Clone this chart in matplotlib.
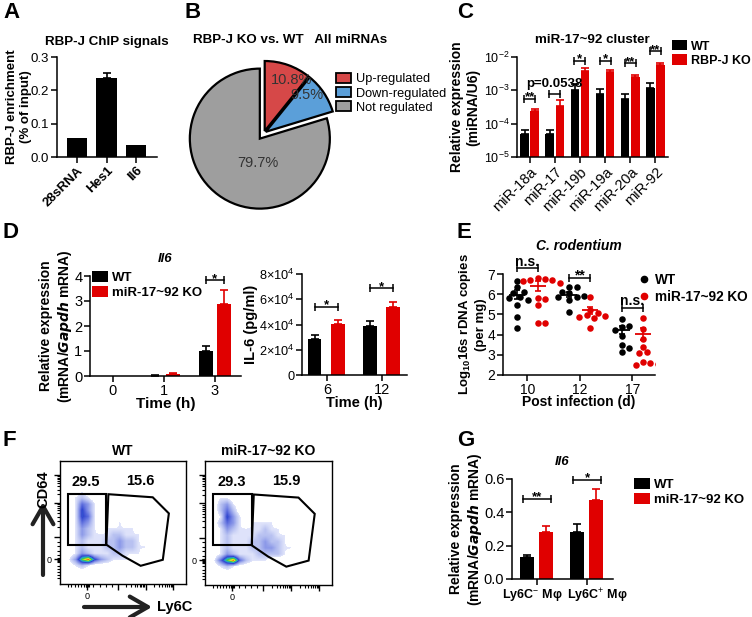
import numpy as np
import matplotlib
matplotlib.use('Agg')
import matplotlib.pyplot as plt
from matplotlib.patches import Patch, Polygon, Rectangle, FancyArrowPatch
from matplotlib.lines import Line2D
from matplotlib.colors import LinearSegmentedColormap
from matplotlib.ticker import NullLocator
from matplotlib.transforms import ScaledTranslation

plt.rcParams['font.family'] = ['Liberation Sans', 'DejaVu Sans']
plt.rcParams['mathtext.fontset'] = 'custom'
plt.rcParams['mathtext.rm'] = 'Liberation Sans'
plt.rcParams['mathtext.it'] = 'Liberation Sans:italic'
plt.rcParams['mathtext.bf'] = 'Liberation Sans:bold'
plt.rcParams['axes.linewidth'] = 1.1

RED = '#e00000'

# ---- A: ChIP
chip_genes = ['28sRNA', 'Hes1', 'Il6']
chip_vals = [0.058, 0.238, 0.035]
chip_err = [0.0, 0.015, 0.0]

# ---- B: pie
pie_labels = ['Up-regulated', 'Down-regulated', 'Not regulated']
pie_vals = [10.8, 9.5, 79.7]
pie_colors = ['#d64848', '#5b9fd9', '#9e9e9e']

# ---- C: miR-17~92 cluster
mirs = ['miR-18a', 'miR-17', 'miR-19b', 'miR-19a', 'miR-20a', 'miR-92']
c_wt = [5.0e-5, 5.0e-5, 1.05e-3, 7.7e-4, 5.5e-4, 1.2e-3]
c_wt_err = [1.3e-5, 1.3e-5, 4.5e-4, 3.0e-4, 2.1e-4, 5.0e-4]
c_ko = [2.4e-4, 3.4e-4, 3.9e-3, 3.5e-3, 2.5e-3, 5.6e-3]
c_ko_err = [4e-5, 1.7e-4, 8e-4, 6e-4, 3e-4, 1.0e-3]
c_sig_y = [5.5e-4, 7.6e-4, 7.8e-3, 7.8e-3, 6.6e-3, 1.48e-2]
c_sig = ['**', 'p=0.0538', '*', '*', '**', '**']

# ---- D: Il6 mRNA and IL-6 protein
d_times = ['0', '1', '3']
d_wt = [0.0, 0.02, 1.02]
d_wt_err = [0.0, 0.01, 0.2]
d_ko = [0.0, 0.10, 2.88]
d_ko_err = [0.0, 0.03, 0.57]

d2_times = ['6', '12']
d2_wt = [2.85e4, 3.9e4]
d2_wt_err = [0.35e4, 0.35e4]
d2_ko = [4.05e4, 5.35e4]
d2_ko_err = [0.3e4, 0.42e4]
d2_sig_y = [5.4e4, 6.86e4]

# ---- E: C. rodentium load
e_days = ['10', '12', '17']
e_wt = [[6.67, 6.34, 6.13, 6.05, 5.88, 5.80, 5.72, 5.46, 4.88, 4.35],
        [6.34, 6.37, 6.12, 6.04, 5.88, 5.84, 5.90, 5.72, 5.13],
        [4.76, 4.38, 4.42, 4.22, 3.92, 3.47, 3.36, 3.14]]
e_ko = [[6.78, 6.75, 6.72, 6.70, 6.65, 6.57, 5.80, 5.76, 5.46, 4.55, 4.58],
        [5.84, 5.21, 5.05, 4.96, 4.88, 4.91, 4.80, 4.35],
        [4.80, 4.30, 3.80, 3.40, 3.14, 3.10, 2.65, 2.57, 2.50, 2.53]]
e_mean_wt = [5.98, 5.97, 4.22]
e_sem_wt = [0.22, 0.12, 0.20]
e_mean_ko = [6.42, 5.20, 4.03]
e_sem_ko = [0.25, 0.18, 0.28]
e_sig_y = [7.28, 6.82, 5.34]
e_sig = ['n.s.', '**', 'n.s.']

# ---- F: flow density (rows top->bottom, digits = event density)
f_wt_grid = [
    "00000000000000000000",
    "00000000000000000000",
    "00000000000000000000",
    "00000000000000000000",
    "00000000000000000000",
    "00010000000000000000",
    "00121000000000000000",
    "00143100000000000000",
    "00153100000000000000",
    "00154100000000000000",
    "00143100010000000000",
    "00132101111100000000",
    "00132111221110000000",
    "00121112232210000000",
    "00121112232211000000",
    "00132111221110000000",
    "01379532111000000000",
    "00121000000000000000",
    "00000000000000000000",
    "00000000000000000000",
]
f_ko_grid = [
    "00000000000000000000",
    "00000000000000000000",
    "00000000000000000000",
    "00000000000000000000",
    "00000000000000000000",
    "00000000000000000000",
    "00110000000000000000",
    "00231000000000000000",
    "00242000000000000000",
    "00153100000000000000",
    "00243101111000000000",
    "00132111121100000000",
    "00121111222110000000",
    "00121112232210000000",
    "00121112233211000000",
    "00132111222210000000",
    "01479421110000000000",
    "00121000000000000000",
    "00000000000000000000",
    "00000000000000000000",
]
f_titles = ['WT', 'miR-17~92 KO']
f_pct_neg = ['29.5', '29.3']
f_pct_pos = ['15.6', '15.9']

# ---- G: Il6 in sorted macrophages
g_cats = ['Ly6C$^{-}$ Mφ', 'Ly6C$^{+}$ Mφ']
g_wt = [0.13, 0.28]
g_wt_err = [0.012, 0.05]
g_ko = [0.28, 0.475]
g_ko_err = [0.04, 0.065]
g_sig_y = [0.48, 0.594]
g_sig = ['**', '*']

W, H = 752, 617
fig = plt.figure(figsize=(W / 100, H / 100), dpi=100)


def px_axes(l, t, r, b):
    return fig.add_axes([l / W, 1 - b / H, (r - l) / W, (b - t) / H])


def style(ax, fs=9):
    ax.spines['top'].set_visible(False)
    ax.spines['right'].set_visible(False)
    ax.tick_params(direction='out', length=4, width=1.1, labelsize=fs, pad=1.5)


def err_up(ax, x, v, e, color):
    ax.errorbar(x, v, yerr=[np.zeros(len(e)), e], fmt='none', ecolor=color,
                elinewidth=1.2, capsize=3, capthick=1.2, clip_on=False)


def bracket(ax, x1, x2, y, txt, fs=9.5, off=None):
    ax.plot([x1, x2], [y, y], color='k', lw=1.1, marker='|', ms=6, mew=1.1, clip_on=False)
    if off is None:
        off = -1.2 if txt.startswith('*') else 1.8
    ax.annotate(txt, (0.5 * (x1 + x2), y), xytext=(0, off), textcoords='offset points',
                ha='center', va='baseline', fontsize=fs, fontweight='bold', annotation_clip=False)


def letter(x, y, s):
    fig.text(x / W, 1 - y / H, s, fontsize=16, fontweight='bold', va='top', ha='left')


def bar_legend(ax, x, y, labels, fs=10):
    hs = [Patch(facecolor='k'), Patch(facecolor=RED)]
    ax.legend(hs, labels, loc='upper left', bbox_to_anchor=(x / W, 1 - y / H),
              bbox_transform=fig.transFigure, frameon=False, handlelength=1.2,
              handleheight=0.9, handletextpad=0.3, borderaxespad=0, borderpad=0,
              labelspacing=0.15, prop={'weight': 'bold', 'size': fs})


# ================= A
ax = px_axes(57, 57, 157, 157)
style(ax, 9.5)
xa = np.arange(len(chip_genes))
ax.bar(xa, chip_vals, width=0.68, color='k')
err_up(ax, xa[1:2], chip_vals[1:2], chip_err[1:2], 'k')
ax.set_xlim(-0.67, 2.7)
ax.set_ylim(0, 0.3)
ax.set_yticks([0, 0.1, 0.2, 0.3])
ax.set_yticklabels(['0.0', '0.1', '0.2', '0.3'])
ax.set_xticks(xa)
ax.set_xticklabels(chip_genes, rotation=45, ha='right', rotation_mode='anchor',
                   fontweight='bold', fontsize=9.5)
ax.set_title('RBP-J ChIP signals', fontsize=9.6, fontweight='bold', pad=8.5)
ax.set_ylabel('RBP-J enrichment\n(% of input)', fontsize=9.5, fontweight='bold')
ax.yaxis.set_label_coords(-0.255, 0.5)

# ================= B
axb = px_axes(187, 56, 341, 210)
wedges, _ = axb.pie(pie_vals, colors=pie_colors, startangle=90, counterclock=False,
                    explode=[0.03, 0.03, 0.1], wedgeprops=dict(edgecolor='k', linewidth=1.6))
axb.set_xlim(-1.1, 1.1)
axb.set_ylim(-1.1, 1.1)
axb.set_aspect('equal')
for (px, py), v in zip([(0.4, 0.76), (0.62, 0.55), (-0.09, -0.43)], pie_vals):
    axb.text(px, py, '%.1f%%' % v, ha='center', va='center', fontsize=10.5, color='#333333')
fig.text(290 / W, 1 - 40 / H, 'RBP-J KO vs. WT   All miRNAs', ha='center', va='center',
         fontsize=9.6, fontweight='bold')
axb.legend([Patch(facecolor=c, edgecolor='k', linewidth=1.3) for c in pie_colors], pie_labels,
           loc='upper left', bbox_to_anchor=(336 / W, 1 - 73 / H), bbox_transform=fig.transFigure,
           frameon=False, handlelength=1.2, handleheight=0.8, handletextpad=0.4,
           borderaxespad=0, borderpad=0, labelspacing=0.15, fontsize=9.2)

# ================= C
ax = px_axes(517, 57, 668, 157)
style(ax, 9)
xc = np.arange(len(mirs))
ax.set_yscale('log')
ax.bar(xc - 0.2, np.array(c_wt) - 1e-5, 0.34, bottom=1e-5, color='k')
ax.bar(xc + 0.2, np.array(c_ko) - 1e-5, 0.34, bottom=1e-5, color=RED)
err_up(ax, xc - 0.2, c_wt, c_wt_err, 'k')
err_up(ax, xc + 0.2, c_ko, c_ko_err, RED)
ax.set_ylim(1e-5, 1e-2)
ax.set_xlim(-0.5, 5.5)
ax.set_yticks([1e-5, 1e-4, 1e-3, 1e-2])
ax.yaxis.set_minor_locator(NullLocator())
ax.set_xticks(xc)
ax.set_xticklabels(mirs, rotation=45, ha='right', rotation_mode='anchor', fontsize=10.5)
for i in range(len(mirs)):
    bracket(ax, i - 0.22, i + 0.22, c_sig_y[i], c_sig[i], 9.5,
            off=5 if c_sig[i].startswith('p') else None)
ax.set_title('miR-17~92 cluster', fontsize=9.6, fontweight='bold', pad=10)
ax.set_ylabel('Relative expression\n(miRNA/U6)', fontsize=10, fontweight='bold')
ax.yaxis.set_label_coords(-0.245, 0.5)
bar_legend(ax, 672, 40, ['WT', 'RBP-J KO'], 9)

# ================= D (left)
ax = px_axes(90, 276, 241, 376)
style(ax, 10.5)
xd = np.arange(len(d_times))
ax.bar(xd - 0.18, d_wt, 0.28, color='k')
ax.bar(xd + 0.18, d_ko, 0.28, color=RED)
err_up(ax, xd[1:] - 0.18, d_wt[1:], d_wt_err[1:], 'k')
err_up(ax, xd[1:] + 0.18, d_ko[1:], d_ko_err[1:], RED)
ax.set_xlim(-0.45, 2.51)
ax.set_ylim(0, 4)
ax.set_yticks([0, 1, 2, 3, 4])
ax.set_xticks(xd)
ax.set_xticklabels(d_times)
bracket(ax, 2 - 0.18, 2 + 0.18, 3.83, '*')
ax.set_title('Il6', fontsize=9.5, fontweight='bold', style='italic', pad=10)
ax.set_ylabel('Relative expression\n(mRNA/$\\mathbfit{Gapdh}$ mRNA)', fontsize=10, fontweight='bold')
ax.yaxis.set_label_coords(-0.106, 0.5)
ax.set_xlabel('Time (h)', fontsize=11, fontweight='bold')
ax.xaxis.set_label_coords(0.5, -0.21)
bar_legend(ax, 92, 271, ['WT', 'miR-17~92 KO'], 9.5)

# ================= D (right)
ax = px_axes(302, 274, 407, 375)
style(ax, 9.2)
x2 = np.arange(len(d2_times))
ax.bar(x2 - 0.22, d2_wt, 0.24, color='k')
ax.bar(x2 + 0.2, d2_ko, 0.26, color=RED)
err_up(ax, x2 - 0.22, d2_wt, d2_wt_err, 'k')
err_up(ax, x2 + 0.2, d2_ko, d2_ko_err, RED)
ax.set_xlim(-0.45, 1.45)
ax.set_ylim(0, 8e4)
ax.set_yticks([0, 2e4, 4e4, 6e4, 8e4])
ax.set_yticklabels(['0', '2×10$^{4}$', '4×10$^{4}$', '6×10$^{4}$', '8×10$^{4}$'])
ax.set_xticks(x2)
ax.set_xticklabels(d2_times, fontsize=10.5)
for i in range(len(d2_times)):
    bracket(ax, i - 0.22, i + 0.2, d2_sig_y[i], '*')
ax.set_ylabel('IL-6 (pg/ml)', fontsize=10.5, fontweight='bold')
ax.yaxis.set_label_coords(-0.42, 0.5)
ax.set_xlabel('Time (h)', fontsize=10.5, fontweight='bold')
ax.xaxis.set_label_coords(0.5, -0.21)

# ================= E
ax = px_axes(503, 274, 655, 375)
style(ax, 10)


def swarm(ys, center, step=0.07, min_px=6, xu=52.5, yu=20.2):
    placed = []
    for y in ys:
        k = 0
        while True:
            off = ((k + 1) // 2) * step * (1 if k % 2 == 1 else -1)
            x = center + off
            if all(np.hypot((x - px) * xu, (y - py) * yu) >= min_px for px, py in placed):
                break
            k += 1
        placed.append((x, y))
    return np.array(placed)


for i in range(len(e_days)):
    for vals, mean, sem, off, col in [(e_wt[i], e_mean_wt[i], e_sem_wt[i], -0.2, 'k'),
                                      (e_ko[i], e_mean_ko[i], e_sem_ko[i], 0.2, RED)]:
        pts = swarm(vals, i + off)
        ax.scatter(pts[:, 0], pts[:, 1], s=22, color=col, zorder=3, linewidths=0)
        ax.hlines(mean, i + off - 0.15, i + off + 0.15, color=col, lw=1.3, zorder=4)
        ax.errorbar([i + off], [mean], yerr=[sem], fmt='none', ecolor=col, elinewidth=1.2,
                    capsize=2.5, capthick=1.2, zorder=4)
    bracket(ax, i - 0.2, i + 0.2, e_sig_y[i], e_sig[i], 10)
ax.set_xlim(-0.46, 2.43)
ax.set_ylim(2, 7)
ax.set_yticks(np.arange(2, 8))
ax.set_xticks(np.arange(len(e_days)))
ax.set_xticklabels(e_days)
ax.set_title('C. rodentium', fontsize=10, fontweight='bold', style='italic', pad=17)
ax.set_ylabel('Log$_{\\mathbf{10}}$16s rDNA copies\n(per mg)', fontsize=9.5, fontweight='bold')
ax.yaxis.set_label_coords(-0.105, 0.5)
ax.set_xlabel('Post infection (d)', fontsize=10, fontweight='bold')
ax.xaxis.set_label_coords(0.5, -0.2)
ax.legend([Line2D([], [], ls='', marker='o', ms=4.5, color='k'),
           Line2D([], [], ls='', marker='o', ms=4.5, color=RED)], ['WT', 'miR-17~92 KO'],
          loc='upper left', bbox_to_anchor=(639 / W, 1 - 273 / H), bbox_transform=fig.transFigure,
          frameon=False, handlelength=0.8, handletextpad=0.4, borderaxespad=0, borderpad=0,
          labelspacing=0.2, prop={'weight': 'bold', 'size': 9.8})

# ================= F
flow_cmap = LinearSegmentedColormap.from_list(
    'flow', [(0.0, '#e2e6fb'), (0.15, '#b3bdf0'), (0.32, '#7584e4'), (0.48, '#3347d0'),
             (0.62, '#22a8c8'), (0.74, '#44c84a'), (0.87, '#f0e020'), (1.0, '#f05010')])
flow_cmap.set_under('white')

rect_gate = (0.064, 0.32, 0.304, 0.41)
poly_gate = [(0.384, 0.73), (0.736, 0.705), (0.864, 0.574), (0.816, 0.197),
             (0.64, 0.148), (0.496, 0.23), (0.368, 0.32)]


def flow_minor(majors):
    ticks = list(np.linspace(majors[0], majors[1], 6)[1:-1])
    for a, b in zip(majors[1:-1], majors[2:]):
        ticks += [a + (b - a) * np.log10(k) for k in range(2, 10)]
    ticks += [majors[0] - 0.025 * k for k in range(1, 7)]
    ticks += [majors[0] + d for d in (-0.012, -0.006, 0.006, 0.012)]
    return [t for t in ticks if 0 <= t <= 1]


for grid, box, title, n1, n2 in zip([f_wt_grid, f_ko_grid], [(60, 461, 186, 584), (205, 461, 332, 585)],
                                     f_titles, f_pct_neg, f_pct_pos):
    ax = px_axes(*box)
    dens = np.array([[int(c) for c in row] for row in grid], float)
    ax.imshow(dens, cmap=flow_cmap, vmin=0.9, vmax=9, extent=(0, 1, 0.025, 1.025),
              interpolation='bilinear', interpolation_stage='data', origin='upper', aspect='auto')
    ax.set_xlim(0, 1)
    ax.set_ylim(0, 1)
    ax.add_patch(Rectangle(rect_gate[:2], rect_gate[2], rect_gate[3], fill=False, lw=1.5, ec='k'))
    ax.add_patch(Polygon(poly_gate, closed=True, fill=False, lw=1.5, ec='k'))
    ax.text(0.208, 0.83, n1, ha='center', va='center', fontsize=10.5, fontweight='bold')
    ax.text(0.64, 0.84, n2, ha='center', va='center', fontsize=10.5, fontweight='bold')
    ax.set_title(title, fontsize=10, fontweight='bold', pad=4)
    ymaj = [0.2, 0.38, 0.66, 0.886]
    xmaj = [0.216, 0.46, 0.68, 0.9]
    ax.set_yticks(ymaj)
    ax.set_yticklabels(['0', '', '', ''])
    ax.set_xticks(xmaj)
    ax.set_xticklabels(['0', '', '', ''])
    ax.set_yticks(flow_minor(ymaj), minor=True)
    ax.set_xticks(flow_minor(xmaj), minor=True)
    ax.tick_params(which='major', direction='out', length=4, width=1, labelsize=6.5, pad=2)
    ax.tick_params(which='minor', direction='out', length=2, width=0.8)
    for s in ax.spines.values():
        s.set_linewidth(1.0)

arrow_style = '->,head_length=1.3,head_width=0.75'
fig.add_artist(FancyArrowPatch((43 / W, 1 - 575 / H), (43 / W, 1 - 502 / H), transform=fig.transFigure,
                               arrowstyle=arrow_style, mutation_scale=10,
                               lw=3, color='#222222', shrinkA=0, shrinkB=0))
fig.add_artist(FancyArrowPatch((84 / W, 1 - 607 / H), (152 / W, 1 - 607 / H), transform=fig.transFigure,
                               arrowstyle=arrow_style, mutation_scale=10,
                               lw=3, color='#222222', shrinkA=0, shrinkB=0))
fig.text(43 / W, 1 - 489 / H, 'CD64', rotation=90, ha='center', va='center', fontsize=10.5, fontweight='bold')
fig.text(157 / W, 1 - 607 / H, 'Ly6C', ha='left', va='center', fontsize=10.5, fontweight='bold')

# ================= G
ax = px_axes(512, 479, 613, 579)
style(ax, 10.5)
xg = np.arange(len(g_cats))
ax.bar(xg - 0.2, g_wt, 0.28, color='k')
ax.bar(xg + 0.18, g_ko, 0.28, color=RED)
err_up(ax, xg - 0.2, g_wt, g_wt_err, 'k')
err_up(ax, xg + 0.18, g_ko, g_ko_err, RED)
ax.set_xlim(-0.5, 1.52)
ax.set_ylim(0, 0.6)
ax.set_yticks([0, 0.2, 0.4, 0.6])
ax.set_yticklabels(['0.0', '0.2', '0.4', '0.6'])
ax.set_xticks(xg)
ax.set_xticklabels(g_cats, fontsize=9, fontweight='bold')
for lab, dx in zip(ax.get_xticklabels(), [-5, 10]):
    lab.set_transform(lab.get_transform() + ScaledTranslation(dx / 100, 0, fig.dpi_scale_trans))
for i in range(len(g_cats)):
    bracket(ax, i - 0.28, i + 0.28, g_sig_y[i], g_sig[i])
ax.set_title('Il6', fontsize=9.5, fontweight='bold', style='italic', pad=10)
ax.set_ylabel('Relative expression\n(mRNA/$\\mathbfit{Gapdh}$ mRNA)', fontsize=10, fontweight='bold')
ax.yaxis.set_label_coords(-0.28, 0.5)
bar_legend(ax, 634, 478, ['WT', 'miR-17~92 KO'], 9.5)

for x, y, s in [(3, 2, 'A'), (184, 2, 'B'), (457, 2, 'C'), (3, 222, 'D'), (457, 222, 'E'),
                (3, 430, 'F'), (457, 430, 'G')]:
    letter(x, y, s)

fig.savefig('out.png', dpi=100)
